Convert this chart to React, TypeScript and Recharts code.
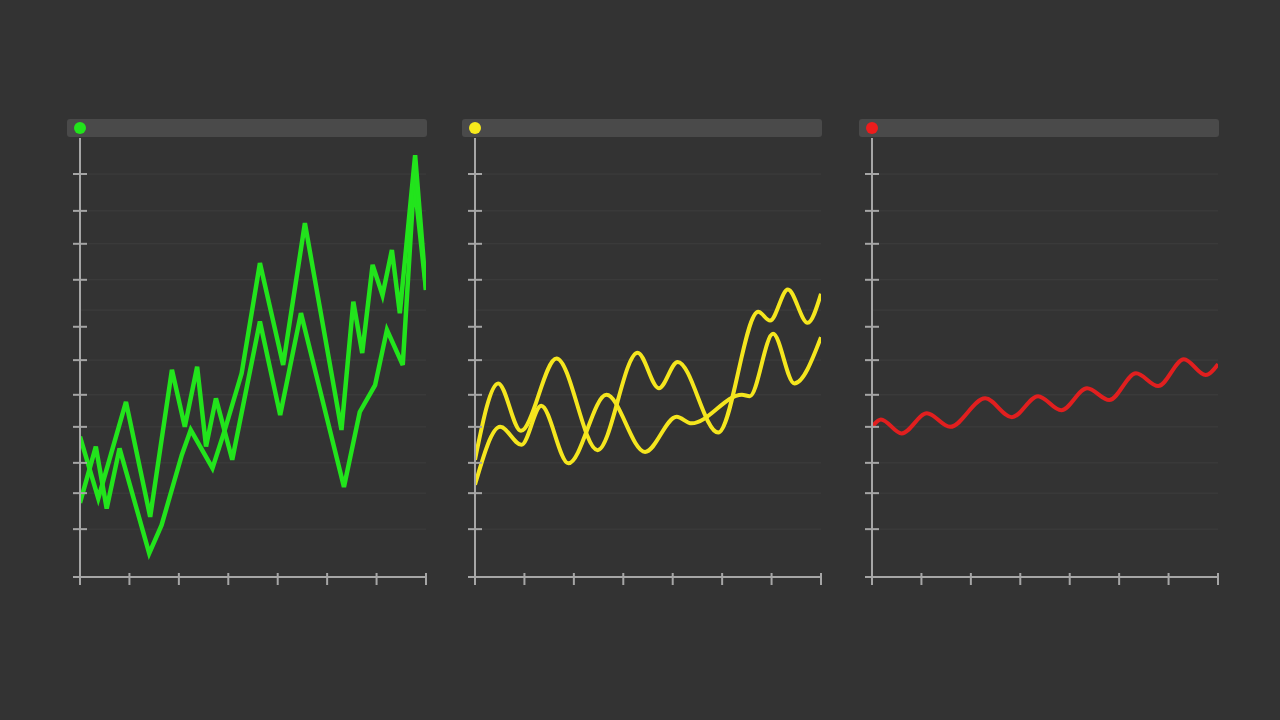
import React from "react";
import { LineChart, Line, XAxis, YAxis, CartesianGrid } from "recharts";

// ---- tick / grid values (shared by all three panels)
const xTicks = [0, 1, 2, 3, 4, 5, 6, 7];
const yTicks = [0, 10.9, 19.1, 26.0, 34.2, 41.5, 49.4, 57.0, 67.7, 75.9, 83.4, 91.8];
const gridValues = [10.9, 19.1, 26.0, 34.2, 41.5, 49.4, 57.0, 60.8, 67.7, 75.9, 83.4, 91.8];

// ---- panel 1 (green, jagged)
const greenA_x = [0, 0.37, 0.93, 1.42, 1.86, 2.12, 2.37, 2.55, 2.75, 3.08, 3.64, 4.05, 4.47, 5.34, 5.66, 5.97, 6.21, 6.53, 6.76, 7];
const greenA_y = [32.0, 17.9, 39.9, 13.7, 47.2, 34.2, 47.9, 29.7, 40.7, 26.7, 58.2, 36.9, 60.1, 20.5, 37.6, 43.7, 56.3, 48.3, 90.5, 65.4];
const greenB_x = [0, 0.32, 0.54, 0.8, 1.4, 1.65, 2.06, 2.24, 2.68, 2.93, 3.27, 3.64, 4.11, 4.55, 5.29, 5.53, 5.71, 5.92, 6.12, 6.31, 6.47, 6.78, 7];
const greenB_y = [16.9, 29.7, 15.6, 29.3, 5.4, 11.8, 27.8, 33.5, 24.8, 33.5, 46.4, 71.5, 48.3, 80.6, 33.5, 62.7, 51.0, 71.1, 64.2, 74.5, 60.1, 96.1, 65.4];

// ---- panel 2 (yellow, smooth)
const yellowC_x = [0, 0.51, 0.94, 1.34, 1.89, 2.66, 3.44, 4.08, 4.38, 5.4, 5.56, 6.03, 6.46, 7];
const yellowC_y = [21.0, 34.2, 30.1, 39.0, 25.9, 41.5, 28.5, 36.5, 35.0, 41.5, 41.2, 55.4, 44.1, 54.6];
const yellowD_x = [0, 0.47, 0.93, 1.65, 2.48, 3.29, 3.72, 4.1, 4.92, 5.73, 5.97, 6.33, 6.73, 7];
const yellowD_y = [26.7, 44.1, 33.3, 49.8, 28.9, 51.1, 43.0, 49.0, 32.9, 60.4, 58.4, 65.5, 57.9, 64.5];

// ---- panel 3 (red, wave)
const red_x = [0, 0.18, 0.6, 1.11, 1.58, 2.29, 2.83, 3.36, 3.83, 4.35, 4.8, 5.34, 5.79, 6.31, 6.75, 7];
const red_y = [34.2, 35.9, 32.7, 37.3, 34.2, 40.7, 36.4, 41.2, 38.0, 43.0, 40.3, 46.4, 43.5, 49.6, 46.0, 48.5];

const zip = (xs: number[], ys: number[]) => xs.map((x, i) => ({ x, y: ys[i] }));

const AXIS = "#a6a6a6";
const GRID = "#3e3e3e";

const YTick = (props: any) => {
  const { x, y } = props;
  return <line x1={x - 7} x2={x + 7} y1={y} y2={y} stroke={AXIS} strokeWidth={2} />;
};
const XTick = (props: any) => {
  const { x, y } = props;
  return <line x1={x} x2={x} y1={y - 4} y2={y + 8} stroke={AXIS} strokeWidth={2} />;
};

type Series = { data: { x: number; y: number }[]; color: string; width: number; curve: "linear" | "monotone" };

const PLOT_W = 346;
const TOP = 100;

function Panel({ axisX, dot, series }: { axisX: number; dot: string; series: Series[] }) {
  const left = axisX - 20;
  return (
    <>
      <div
        style={{
          position: "absolute",
          left: axisX - 13.5,
          top: 119,
          width: PLOT_W + 14,
          height: 18,
          borderRadius: 3,
          background: "#4a4a4a",
        }}
      />
      <div
        style={{
          position: "absolute",
          left: axisX - 6,
          top: 121.5,
          width: 12,
          height: 12,
          borderRadius: 6,
          background: dot,
          zIndex: 2,
        }}
      />
      <div style={{ position: "absolute", left, top: TOP }}>
        <LineChart width={380} height={500} margin={{ top: 38, right: 14, bottom: 3, left: 0 }}>
          <CartesianGrid
            horizontal
            vertical={false}
            horizontalValues={gridValues}
            stroke={GRID}
            strokeWidth={1}
          />
          <XAxis
            type="number"
            dataKey="x"
            domain={[0, 7]}
            ticks={xTicks}
            allowDataOverflow
            height={20}
            tickSize={0}
            tickMargin={0}
            tickLine={false}
            axisLine={{ stroke: AXIS, strokeWidth: 2 }}
            tick={<XTick />}
          />
          <YAxis
            type="number"
            domain={[0, 100]}
            ticks={yTicks}
            allowDataOverflow
            width={20}
            tickSize={0}
            tickMargin={0}
            tickLine={false}
            axisLine={{ stroke: AXIS, strokeWidth: 2 }}
            tick={<YTick />}
          />
          {series.map((s, i) => (
            <Line
              key={i}
              data={s.data}
              dataKey="y"
              type={s.curve}
              stroke={s.color}
              strokeWidth={s.width}
              dot={false}
              activeDot={false}
              isAnimationActive={false}
              strokeLinejoin="miter"
            />
          ))}
        </LineChart>
      </div>
    </>
  );
}

export default function App() {
  return (
    <div
      style={{
        position: "fixed",
        left: 0,
        top: 0,
        width: 1280,
        height: 720,
        background: "#333333",
        overflow: "hidden",
      }}
    >
      <Panel
        axisX={80}
        dot="#22e41c"
        series={[
          { data: zip(greenA_x, greenA_y), color: "#22e41c", width: 4.5, curve: "linear" },
          { data: zip(greenB_x, greenB_y), color: "#22e41c", width: 4.5, curve: "linear" },
        ]}
      />
      <Panel
        axisX={475}
        dot="#f7ea1c"
        series={[
          { data: zip(yellowC_x, yellowC_y), color: "#f5e61e", width: 4, curve: "monotone" },
          { data: zip(yellowD_x, yellowD_y), color: "#f5e61e", width: 4, curve: "monotone" },
        ]}
      />
      <Panel
        axisX={872}
        dot="#ee1c1c"
        series={[{ data: zip(red_x, red_y), color: "#e11f1f", width: 4, curve: "monotone" }]}
      />
    </div>
  );
}
